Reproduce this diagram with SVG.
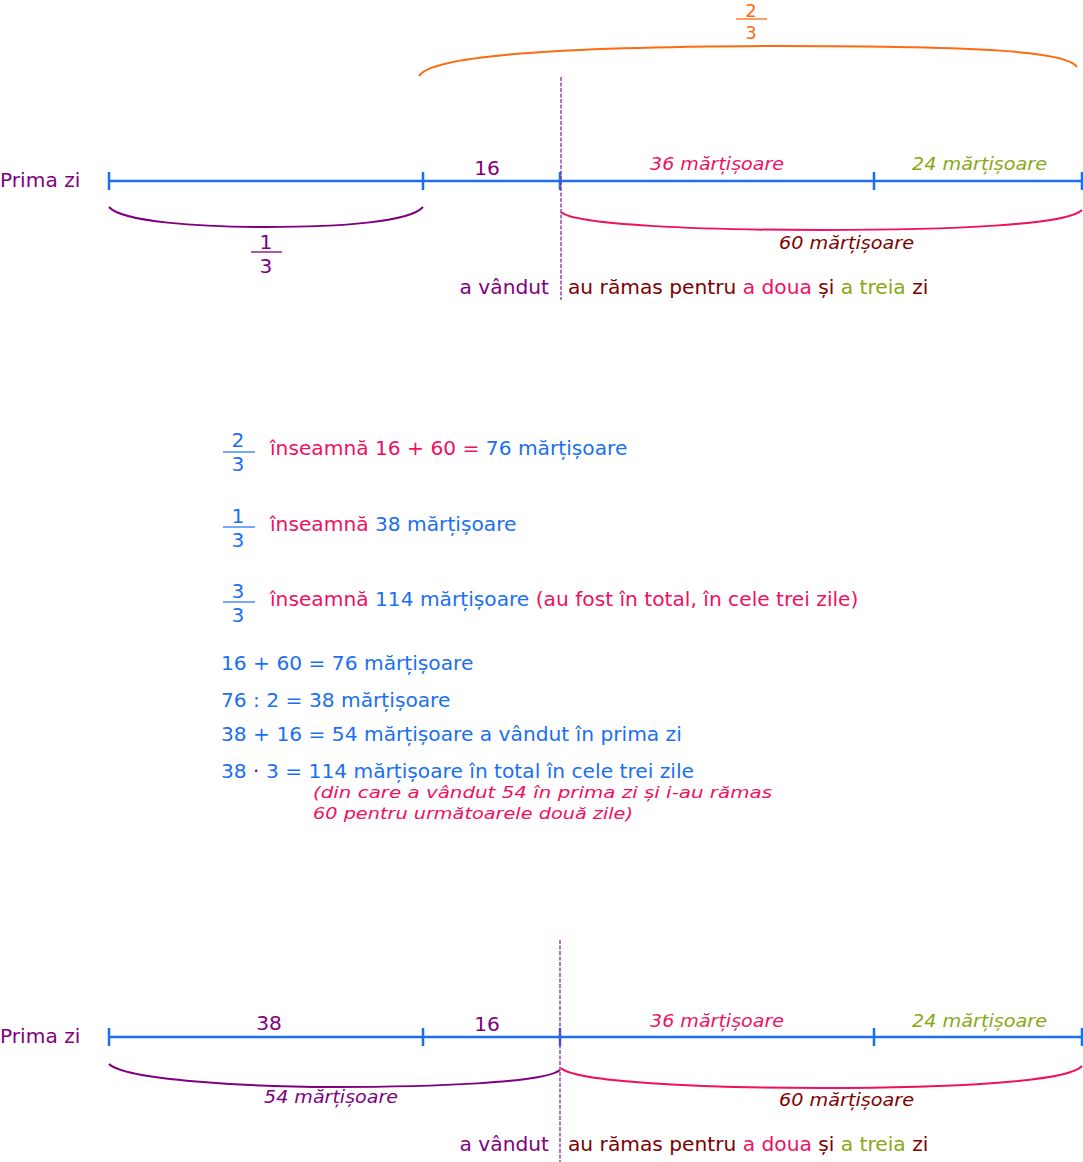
<svg xmlns="http://www.w3.org/2000/svg" width="1083" height="1162" viewBox="0 0 1083 1162">
<style>
text{font-family:"DejaVu Sans","Liberation Sans",sans-serif;font-size:20.2px}
.hw{font-family:"DejaVu Sans","Liberation Sans",sans-serif;font-style:italic;font-size:18.5px}
.sm{font-size:16.5px}
.fr{font-size:18px}
.pur{fill:#800080}.blu{fill:#1a6ff2}.pnk{fill:#f0105f}.red{fill:#800000}.grn{fill:#88a814}.org{fill:#ff6a10}
.axis{stroke:#1a6ff2;stroke-width:2.5;fill:none}
.tick{stroke:#1a6ff2;stroke-width:2.5}
.br{fill:none;stroke-width:2}
.dash{stroke:#8a2c9a;stroke-width:1.3;stroke-dasharray:4 1.5;fill:none}
.mid{text-anchor:middle}
</style>
<g id="top-diagram">
<text class="pur" x="0" y="187">Prima zi</text>
<g id="top-axis">
<line class="axis" x1="109" y1="181" x2="1082" y2="181"/>
<line class="tick" x1="109" y1="172" x2="109" y2="190"/>
<line class="tick" x1="423" y1="172" x2="423" y2="190"/>
<line class="tick" x1="560" y1="172" x2="560" y2="190"/>
<line class="tick" x1="874" y1="172" x2="874" y2="190"/>
<line class="tick" x1="1082" y1="172" x2="1082" y2="190"/>
</g>
<text class="pur mid" x="487" y="175">16</text>
<text class="hw pnk" x="650" y="170" textLength="134" lengthAdjust="spacingAndGlyphs">36 mărțișoare</text>
<text class="hw grn" x="912" y="170" textLength="135" lengthAdjust="spacingAndGlyphs">24 mărțișoare</text>
<g id="top-brace-third">
<path class="br" stroke="#800080" d="M109,207 C122,222 200,227 266,227 C340,227 410,222 423,207"/>
<text class="pur mid" x="266" y="249">1</text>
<line x1="251" y1="252" x2="282" y2="252" stroke="#800080" stroke-width="1.3"/>
<text class="pur mid" x="266" y="273">3</text>
</g>
<g id="top-brace-twothirds">
<path class="br" stroke="#ff6a10" d="M419,76 C432,55 560,47 775,46 C990,46 1068,52 1077,67"/>
<text class="org mid fr" x="751" y="17">2</text>
<line x1="736" y1="19" x2="767" y2="19" stroke="#ff6a10" stroke-width="1.3"/>
<text class="org mid fr" x="751" y="39">3</text>
</g>
<g id="top-brace-rest">
<path class="br" stroke="#f0105f" d="M561,212 C575,225 700,230 821,230 C950,230 1068,225 1082,210"/>
<text class="hw red" x="779" y="249" textLength="135" lengthAdjust="spacingAndGlyphs">60 mărțișoare</text>
</g>
<line class="dash" x1="561" y1="77" x2="561" y2="300"/>
<text class="pur" x="549" y="294" text-anchor="end">a vândut</text>
<text x="568" y="294"><tspan class="red">au rămas pentru </tspan><tspan class="pnk">a doua</tspan><tspan class="red"> și </tspan><tspan class="grn">a treia</tspan><tspan class="red"> zi</tspan></text>
</g>
<g id="explanations">
<g id="f1">
<text class="blu mid" x="238" y="447">2</text>
<line x1="223" y1="452" x2="255" y2="452" stroke="#1a6ff2" stroke-width="1.2"/>
<text class="blu mid" x="238" y="471">3</text>
<text x="270" y="455"><tspan class="pnk">înseamnă 16 + 60 = </tspan><tspan class="blu">76 mărțișoare</tspan></text>
</g>
<g id="f2">
<text class="blu mid" x="238" y="523">1</text>
<line x1="223" y1="527" x2="255" y2="527" stroke="#1a6ff2" stroke-width="1.2"/>
<text class="blu mid" x="238" y="547">3</text>
<text x="270" y="531"><tspan class="pnk">înseamnă </tspan><tspan class="blu">38 mărțișoare</tspan></text>
</g>
<g id="f3">
<text class="blu mid" x="238" y="598">3</text>
<line x1="223" y1="602" x2="255" y2="602" stroke="#1a6ff2" stroke-width="1.2"/>
<text class="blu mid" x="238" y="622">3</text>
<text x="270" y="606"><tspan class="pnk">înseamnă </tspan><tspan class="blu">114 mărțișoare </tspan><tspan class="pnk">(au fost în total, în cele trei zile)</tspan></text>
</g>
<text class="blu" x="221" y="670">16 + 60 = 76 mărțișoare</text>
<text class="blu" x="221" y="707">76 : 2 = 38 mărțișoare</text>
<text class="blu" x="221" y="741">38 + 16 = 54 mărțișoare a vândut în prima zi</text>
<text class="blu" x="221" y="778">38 <tspan class="pur">·</tspan> 3 = 114 mărțișoare în total în cele trei zile</text>
<text class="hw sm pnk" x="313" y="798" textLength="459" lengthAdjust="spacingAndGlyphs">(din care a vândut 54 în prima zi și i-au rămas</text>
<text class="hw sm pnk" x="313" y="819" textLength="320" lengthAdjust="spacingAndGlyphs">60 pentru următoarele două zile)</text>
</g>
<g id="bottom-diagram">
<text class="pur" x="0" y="1043">Prima zi</text>
<g id="bottom-axis">
<line class="axis" x1="109" y1="1037" x2="1082" y2="1037"/>
<line class="tick" x1="109" y1="1028" x2="109" y2="1046"/>
<line class="tick" x1="423" y1="1028" x2="423" y2="1046"/>
<line class="tick" x1="560" y1="1028" x2="560" y2="1046"/>
<line class="tick" x1="874" y1="1028" x2="874" y2="1046"/>
<line class="tick" x1="1082" y1="1028" x2="1082" y2="1046"/>
</g>
<text class="pur mid" x="269" y="1030">38</text>
<text class="pur mid" x="487" y="1031">16</text>
<text class="hw pnk" x="650" y="1027" textLength="134" lengthAdjust="spacingAndGlyphs">36 mărțișoare</text>
<text class="hw grn" x="912" y="1027" textLength="135" lengthAdjust="spacingAndGlyphs">24 mărțișoare</text>
<g id="bottom-brace-sold">
<path class="br" stroke="#800080" d="M109,1064 C125,1080 250,1087 334,1087 C430,1087 545,1083 560,1070"/>
<text class="hw pur" x="264" y="1103" textLength="134" lengthAdjust="spacingAndGlyphs">54 mărțișoare</text>
</g>
<g id="bottom-brace-rest">
<path class="br" stroke="#f0105f" d="M561,1068 C575,1082 700,1088 821,1088 C950,1088 1068,1082 1082,1066"/>
<text class="hw red" x="779" y="1106" textLength="135" lengthAdjust="spacingAndGlyphs">60 mărțișoare</text>
</g>
<line class="dash" x1="560" y1="940" x2="560" y2="1162"/>
<text class="pur" x="549" y="1151" text-anchor="end">a vândut</text>
<text x="568" y="1151"><tspan class="red">au rămas pentru </tspan><tspan class="pnk">a doua</tspan><tspan class="red"> și </tspan><tspan class="grn">a treia</tspan><tspan class="red"> zi</tspan></text>
</g>
</svg>
